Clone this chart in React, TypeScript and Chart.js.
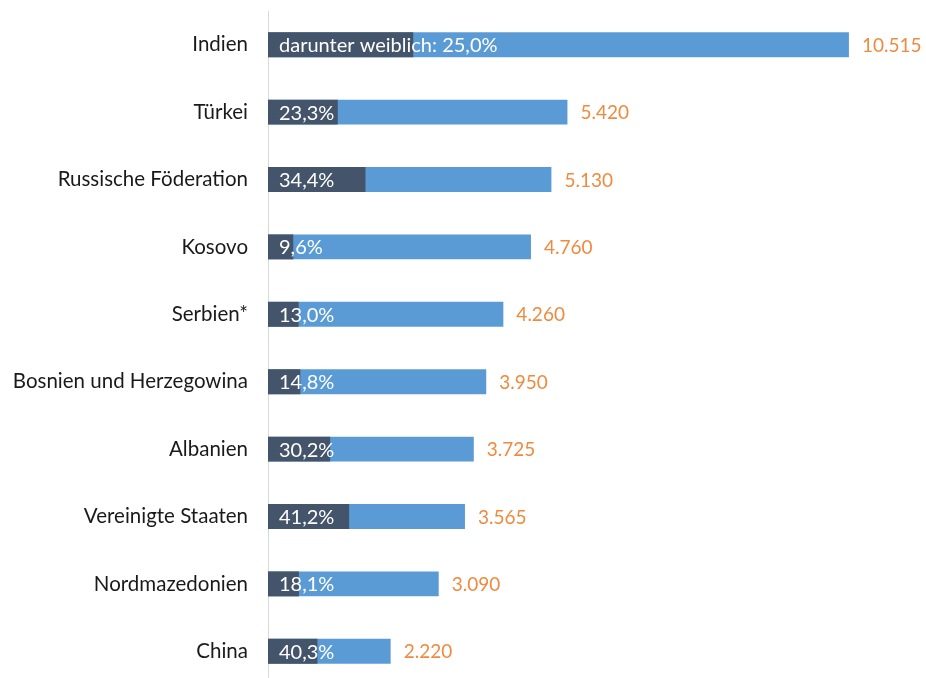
import React, { useEffect, useRef } from "react";
import { Chart, registerables } from "chart.js";

Chart.register(...registerables);

const categories = [
  "Indien",
  "Türkei",
  "Russische Föderation",
  "Kosovo",
  "Serbien*",
  "Bosnien und Herzegowina",
  "Albanien",
  "Vereinigte Staaten",
  "Nordmazedonien",
  "China",
];
const totals = [10515, 5420, 5130, 4760, 4260, 3950, 3725, 3565, 3090, 2220];
const femaleShare = [25.0, 23.3, 34.4, 9.6, 13.0, 14.8, 30.2, 41.2, 18.1, 40.3];

const FONT = "Lato, 'Open Sans', sans-serif";

function fmtInt(v: number): string {
  return String(Math.round(v)).replace(/\B(?=(\d{3})+(?!\d))/g, ".");
}
function fmtPct(v: number): string {
  return v.toFixed(1).replace(".", ",") + "%";
}

const labelPlugin = {
  id: "barLabels",
  afterDatasetsDraw(chart: any) {
    const ctx = chart.ctx;
    const metaTotal = chart.getDatasetMeta(1);
    const area = chart.chartArea;
    ctx.save();
    ctx.textBaseline = "middle";
    metaTotal.data.forEach((bar: any, i: number) => {
      ctx.font = `19px ${FONT}`;
      ctx.fillStyle = "#F08A3E";
      ctx.textAlign = "left";
      ctx.fillText(fmtInt(totals[i]), bar.x + 13, bar.y + 1);
      ctx.font = `20px ${FONT}`;
      ctx.fillStyle = "#ffffff";
      const txt = i === 0 ? "darunter weiblich: " + fmtPct(femaleShare[i]) : fmtPct(femaleShare[i]);
      ctx.fillText(txt, area.left + 11, bar.y + 1);
    });
    ctx.restore();
  },
};

export default function App() {
  const ref = useRef<HTMLCanvasElement | null>(null);
  useEffect(() => {
    document.body.style.margin = "0";
    document.body.style.overflow = "hidden";
    const female = totals.map((t, i) => (t * femaleShare[i]) / 100);
    const chart = new Chart(ref.current as HTMLCanvasElement, {
      type: "bar",
      data: {
        labels: categories,
        datasets: [
          {
            label: "weiblich",
            data: female,
            backgroundColor: "#44546A",
            categoryPercentage: 1,
            barPercentage: 0.37,
            grouped: false,
          } as any,
          {
            label: "insgesamt",
            data: totals,
            backgroundColor: "#5B9BD5",
            categoryPercentage: 1,
            barPercentage: 0.37,
            grouped: false,
          } as any,
        ],
      },
      options: {
        indexAxis: "y",
        animation: false,
        responsive: false,
        maintainAspectRatio: false,
        layout: { padding: { top: 11, right: 0, bottom: 1, left: 0 } },
        plugins: {
          legend: { display: false },
          tooltip: { enabled: false },
        },
        scales: {
          x: {
            display: false,
            min: 0,
            max: 11910,
          },
          y: {
            afterFit: (scale: any) => {
              scale.width = 268;
              scale.paddingTop = 0;
              scale.paddingBottom = 0;
            },
            grid: { display: false, drawTicks: false },
            border: { display: true, color: "#D9D9D9", width: 1 },
            ticks: {
              color: "#1a1a1a",
              padding: 20,
              font: { family: FONT, size: 20.5 },
            },
          },
        },
      },
      plugins: [labelPlugin],
    });
    return () => chart.destroy();
  }, []);
  return (
    <div style={{ position: "fixed", left: 0, top: 0, width: 926, height: 686 }}>
      <canvas ref={ref} width={926} height={686} style={{ width: 926, height: 686 }} />
    </div>
  );
}
